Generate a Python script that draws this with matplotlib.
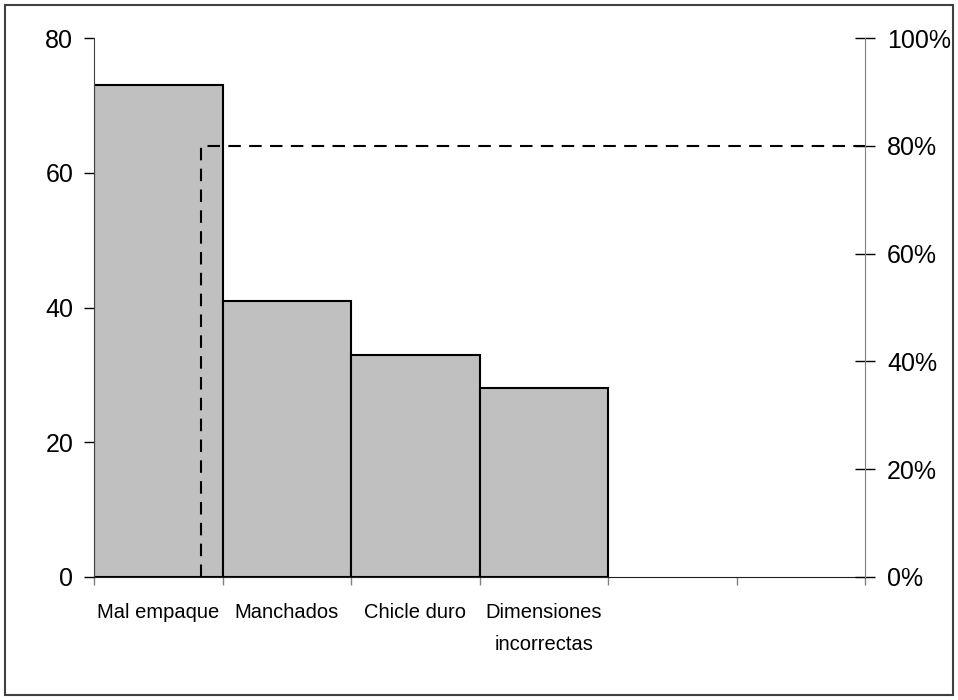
import numpy as np
import matplotlib.pyplot as plt
from matplotlib.patches import Rectangle
from matplotlib.ticker import PercentFormatter

plt.rcParams['font.family'] = ['Liberation Sans', 'DejaVu Sans']

# Data
categorias = ["Mal empaque", "Manchados", "Chicle duro", "Dimensiones\nincorrectas"]
frecuencias = [73, 41, 33, 28]
n_slots = 6               # category slots on the axis (last two empty)
corte_x = 0.83            # position of the 80 % cut (in category units)
corte_pct = 80

fig = plt.figure(figsize=(9.58, 7.0), dpi=100)
ax = fig.add_axes([94 / 958, 123 / 700, 771 / 958, 539 / 700])

x = np.arange(len(frecuencias))
ax.bar(x, frecuencias, width=1.0, align='edge', color='#c0c0c0',
       edgecolor='black', linewidth=1.5, zorder=2)

ax.set_xlim(0, n_slots)
ax.set_ylim(0, 80)
ax.set_yticks([0, 20, 40, 60, 80])
ax.tick_params(axis='y', direction='out', length=7, width=1, labelsize=18, pad=8)

# category boundaries as ticks, labels centred in slots
ax.set_xticks(np.arange(n_slots + 1))
ax.set_xticklabels([])
ax.set_xticks(x + 0.5, minor=True)
ax.set_xticklabels(categorias, minor=True, fontsize=14.5, linespacing=1.85)
ax.tick_params(axis='x', which='major', direction='out', length=6, width=1, color='#808080')
ax.tick_params(axis='x', which='minor', length=0, pad=19)

ax.spines['top'].set_visible(False)
ax.spines['right'].set_visible(False)
ax.spines['left'].set_color('#404040')
ax.spines['bottom'].set_color('#202020')

# right axis in percent
ax2 = ax.twinx()
ax2.set_ylim(0, 100)
ax2.set_yticks([0, 20, 40, 60, 80, 100])
ax2.yaxis.set_major_formatter(PercentFormatter(decimals=0))
ax2.tick_params(axis='y', direction='inout', length=14, width=1, labelsize=18, pad=9)
for s in ['top', 'left', 'bottom']:
    ax2.spines[s].set_visible(False)
ax2.spines['right'].set_color('#808080')

# dashed 80 % cut line
ax2.plot([corte_x, corte_x, n_slots], [0, corte_pct, corte_pct], color='black',
         linestyle=(0, (6, 4)), linewidth=1.5, zorder=3, clip_on=False)

# outer frame
fig.patches.append(Rectangle((5 / 958, 5 / 700), 948 / 958, 690 / 700,
                             transform=fig.transFigure, fill=False,
                             edgecolor='#404040', linewidth=1.5))

fig.savefig('out.png', dpi=100)
